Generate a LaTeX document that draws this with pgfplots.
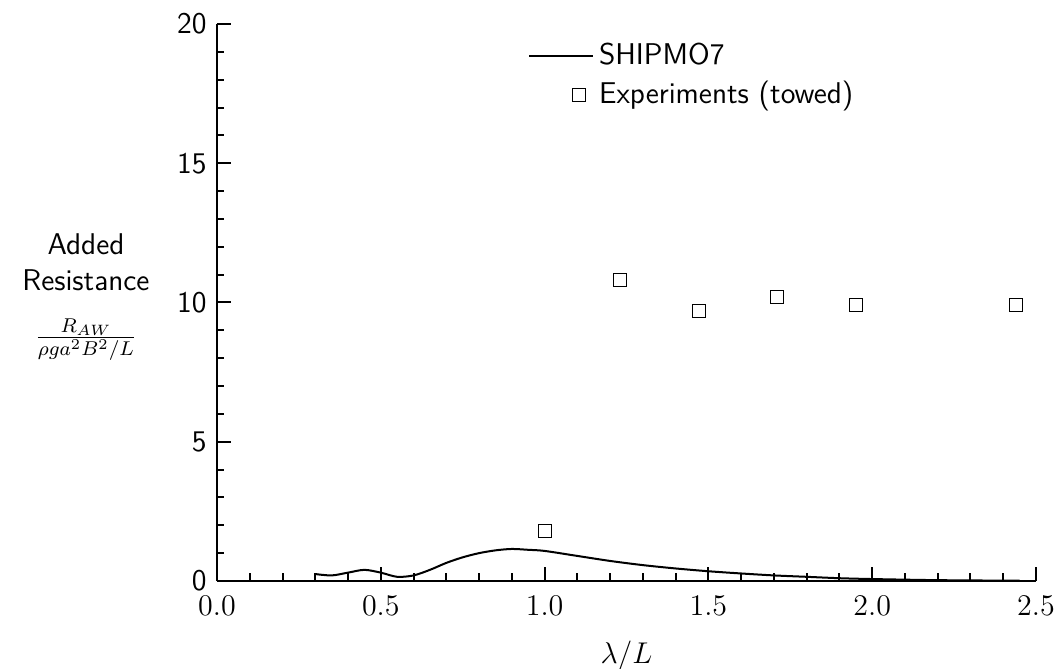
\documentclass[12pt,border=0pt]{standalone}
\usepackage{pgfplots}
\pgfplotsset{compat=1.18}
\begin{document}
\begin{tikzpicture}
\begin{axis}[scale only axis, width=327.6pt, height=222.8pt,
  xmin=0, xmax=2.5, ymin=0, ymax=20,
  axis x line*=bottom, axis y line*=left, axis line style={-, thick},
  tick align=inside, major tick length=5.5pt, minor tick length=3pt, tick style={thick, black},
  xtick={0,0.5,...,2.5}, ytick={0,5,10,15,20}, minor x tick num=4, minor y tick num=4,
  xticklabel style={yshift=-2pt,/pgf/number format/.cd,fixed,fixed zerofill,precision=1},
  yticklabel style={font=\sffamily}, yticklabel={\pgfmathprintnumber[assume math mode=true]{\tick}},
  xlabel={$\lambda/L$}, xlabel style={yshift=-2pt},
  legend style={at={(0.37,0.985)}, anchor=north west, draw=none, font=\sffamily, fill=none, row sep=1pt},
  legend cell align=left,
  clip=false]
\addplot[thick, black, smooth, forget plot] coordinates {
(0.3,0.25)(0.35,0.2)(0.4,0.3)(0.45,0.4)(0.5,0.3)(0.55,0.15)(0.6,0.2)(0.65,0.4)(0.7,0.65)(0.75,0.85)(0.8,1.0)(0.85,1.1)(0.9,1.15)(0.95,1.12)(1.0,1.08)(1.1,0.9)(1.2,0.72)(1.3,0.57)(1.4,0.45)(1.5,0.35)(1.6,0.27)(1.7,0.2)(1.8,0.15)(1.9,0.1)(2.0,0.07)(2.2,0.03)(2.45,0.01)};
\addlegendimage{thick, black, legend image code/.code={\draw[thick] (-0.2cm,0cm) -- (0.7cm,0cm);}}
\addlegendentry{SHIPMO7}
\addplot[only marks, mark=square, mark size=2.6pt, black, legend image code/.code={\draw plot[mark=square, mark size=2.6pt] coordinates {(0.5cm,0cm)};}] coordinates {
(1.0,1.8)(1.23,10.8)(1.47,9.7)(1.71,10.2)(1.95,9.9)(2.44,9.9)};
\addlegendentry{Experiments (towed)}
\node[align=center, font=\sffamily] at (rel axis cs:-0.16,0.51) {Added\\Resistance\\[7pt]$\frac{R_{AW}}{\rho g a^2 B^2/L}$};
\end{axis}
\pgfresetboundingbox
\path (-86.8pt,-35.2pt) rectangle (337.2pt,232.4pt);
\end{tikzpicture}
\end{document}
